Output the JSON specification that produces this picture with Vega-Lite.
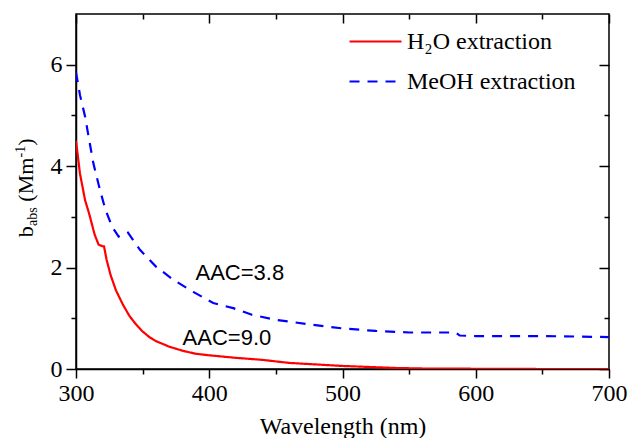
{
  "$schema": "https://vega.github.io/schema/vega-lite/v6.json",
  "width": 533,
  "height": 355,
  "autosize": {"type": "none"},
  "padding": {"left": 76, "top": 14, "right": 21, "bottom": 69},
  "background": "white",
  "config": {
    "font": "'Liberation Serif', 'Times New Roman', Times, serif",
    "view": {"stroke": "black", "strokeWidth": 1.5},
    "axis": {
      "grid": false,
      "domainColor": "black",
      "domainWidth": 1.5,
      "tickColor": "black",
      "tickWidth": 1.5,
      "labelFont": "'Liberation Serif', 'Times New Roman', Times, serif",
      "labelFontSize": 24,
      "labelColor": "black",
      "titleFont": "'Liberation Serif', 'Times New Roman', Times, serif",
      "titleFontSize": 24,
      "titleFontWeight": "normal",
      "titleColor": "black"
    },
    "legend": {
      "orient": "none",
      "legendX": 272,
      "legendY": 0,
      "padding": 0,
      "symbolType": "stroke",
      "symbolSize": 2704,
      "symbolStrokeWidth": 2.2,
      "labelFont": "'Liberation Serif', 'Times New Roman', Times, serif",
      "labelFontSize": 24,
      "labelColor": "black",
      "labelOffset": 4,
      "rowPadding": -7,
      "labelLimit": 400
    }
  },
  "datasets": {
    "spectra": [
      {"wl": 300, "b": 4.5, "series": "H₂O extraction"},
      {"wl": 303, "b": 3.85, "series": "H₂O extraction"},
      {"wl": 306.8, "b": 3.33, "series": "H₂O extraction"},
      {"wl": 310, "b": 3.05, "series": "H₂O extraction"},
      {"wl": 314, "b": 2.65, "series": "H₂O extraction"},
      {"wl": 317, "b": 2.45, "series": "H₂O extraction"},
      {"wl": 320, "b": 2.42, "series": "H₂O extraction"},
      {"wl": 321, "b": 2.42, "series": "H₂O extraction"},
      {"wl": 323, "b": 2.15, "series": "H₂O extraction"},
      {"wl": 326, "b": 1.85, "series": "H₂O extraction"},
      {"wl": 330, "b": 1.55, "series": "H₂O extraction"},
      {"wl": 335, "b": 1.28, "series": "H₂O extraction"},
      {"wl": 340, "b": 1.05, "series": "H₂O extraction"},
      {"wl": 345, "b": 0.88, "series": "H₂O extraction"},
      {"wl": 350, "b": 0.74, "series": "H₂O extraction"},
      {"wl": 355, "b": 0.63, "series": "H₂O extraction"},
      {"wl": 360, "b": 0.55, "series": "H₂O extraction"},
      {"wl": 370, "b": 0.44, "series": "H₂O extraction"},
      {"wl": 380, "b": 0.36, "series": "H₂O extraction"},
      {"wl": 390, "b": 0.3, "series": "H₂O extraction"},
      {"wl": 400, "b": 0.27, "series": "H₂O extraction"},
      {"wl": 420, "b": 0.22, "series": "H₂O extraction"},
      {"wl": 440, "b": 0.18, "series": "H₂O extraction"},
      {"wl": 460, "b": 0.12, "series": "H₂O extraction"},
      {"wl": 480, "b": 0.09, "series": "H₂O extraction"},
      {"wl": 500, "b": 0.06, "series": "H₂O extraction"},
      {"wl": 520, "b": 0.04, "series": "H₂O extraction"},
      {"wl": 540, "b": 0.02, "series": "H₂O extraction"},
      {"wl": 560, "b": 0.01, "series": "H₂O extraction"},
      {"wl": 600, "b": 0.005, "series": "H₂O extraction"},
      {"wl": 650, "b": 0.0, "series": "H₂O extraction"},
      {"wl": 700, "b": 0.0, "series": "H₂O extraction"},
      {"wl": 300, "b": 5.85, "series": "MeOH extraction"},
      {"wl": 303, "b": 5.4, "series": "MeOH extraction"},
      {"wl": 306.8, "b": 4.98, "series": "MeOH extraction"},
      {"wl": 310, "b": 4.5, "series": "MeOH extraction"},
      {"wl": 313, "b": 4.06, "series": "MeOH extraction"},
      {"wl": 318, "b": 3.53, "series": "MeOH extraction"},
      {"wl": 322, "b": 3.15, "series": "MeOH extraction"},
      {"wl": 327, "b": 2.81, "series": "MeOH extraction"},
      {"wl": 332, "b": 2.61, "series": "MeOH extraction"},
      {"wl": 336, "b": 2.66, "series": "MeOH extraction"},
      {"wl": 339, "b": 2.69, "series": "MeOH extraction"},
      {"wl": 348, "b": 2.35, "series": "MeOH extraction"},
      {"wl": 360, "b": 2.02, "series": "MeOH extraction"},
      {"wl": 373, "b": 1.76, "series": "MeOH extraction"},
      {"wl": 388, "b": 1.52, "series": "MeOH extraction"},
      {"wl": 403, "b": 1.3, "series": "MeOH extraction"},
      {"wl": 418, "b": 1.2, "series": "MeOH extraction"},
      {"wl": 432, "b": 1.07, "series": "MeOH extraction"},
      {"wl": 450, "b": 0.97, "series": "MeOH extraction"},
      {"wl": 475, "b": 0.88, "series": "MeOH extraction"},
      {"wl": 500, "b": 0.8, "series": "MeOH extraction"},
      {"wl": 525, "b": 0.75, "series": "MeOH extraction"},
      {"wl": 550, "b": 0.72, "series": "MeOH extraction"},
      {"wl": 575, "b": 0.72, "series": "MeOH extraction"},
      {"wl": 585, "b": 0.72, "series": "MeOH extraction"},
      {"wl": 588, "b": 0.66, "series": "MeOH extraction"},
      {"wl": 600, "b": 0.65, "series": "MeOH extraction"},
      {"wl": 650, "b": 0.65, "series": "MeOH extraction"},
      {"wl": 700, "b": 0.63, "series": "MeOH extraction"}
    ]
  },
  "resolve": {"axis": {"x": "independent", "y": "independent"}},
  "layer": [
    {
      "data": {"name": "spectra"},
      "mark": {"type": "line", "strokeWidth": 2.2, "clip": true},
      "encoding": {
        "x": {
          "field": "wl", "type": "quantitative",
          "scale": {"domain": [300, 700], "nice": false, "zero": false},
          "axis": {
            "title": "Wavelength (nm)",
            "values": [300, 350, 400, 450, 500, 550, 600, 650, 700],
            "labelExpr": "datum.value % 100 === 0 ? datum.label : ''",
            "tickSize": {"condition": {"test": "datum.value % 100 === 0", "value": 9}, "value": 5},
            "labelPadding": 3,
            "titlePadding": 9,
            "labelFlush": false
          }
        },
        "y": {
          "field": "b", "type": "quantitative",
          "scale": {"domain": [0, 7], "nice": false, "zero": true},
          "axis": {
            "title": null,
            "values": [0, 1, 2, 3, 4, 5, 6],
            "labelExpr": "datum.value % 2 === 0 ? datum.label : ''",
            "tickSize": {"condition": {"test": "datum.value % 2 === 0", "value": 10}, "value": 5},
            "labelPadding": 4,
            "labelFlush": false
          }
        },
        "color": {
          "field": "series", "type": "nominal",
          "scale": {"domain": ["H₂O extraction", "MeOH extraction"], "range": ["#ff0000", "#0000ff"]},
          "legend": {"title": null}
        },
        "strokeDash": {
          "field": "series", "type": "nominal",
          "scale": {"domain": ["H₂O extraction", "MeOH extraction"], "range": [[1, 0], [10, 8]]},
          "legend": {"title": null}
        }
      }
    },
    {
      "data": {"name": "spectra"},
      "mark": {"type": "point", "opacity": 0},
      "encoding": {
        "x": {
          "field": "wl", "type": "quantitative",
          "scale": {"domain": [300, 700], "nice": false, "zero": false},
          "axis": {
            "orient": "top", "title": null, "labels": false, "domain": false,
            "values": [300, 350, 400, 450, 500, 550, 600, 650, 700],
            "tickSize": {"condition": {"test": "datum.value % 100 === 0", "value": -9}, "value": -5}
          }
        },
        "y": {
          "field": "b", "type": "quantitative",
          "scale": {"domain": [0, 7], "nice": false},
          "axis": {
            "orient": "right", "title": null, "labels": false, "domain": false,
            "values": [0, 1, 2, 3, 4, 5, 6],
            "tickSize": {"condition": {"test": "datum.value % 2 === 0", "value": -10}, "value": -5}
          }
        }
      }
    },
    {
      "data": {"values": [
        {"t": "AAC=3.8", "wl": 389.7, "b": 1.755},
        {"t": "AAC=9.0", "wl": 380, "b": 0.47}
      ]},
      "mark": {"type": "text", "font": "'Liberation Sans', Arial, sans-serif", "fontSize": 22, "align": "left", "baseline": "alphabetic", "color": "black"},
      "encoding": {
        "x": {"field": "wl", "type": "quantitative", "axis": null},
        "y": {"field": "b", "type": "quantitative", "axis": null},
        "text": {"field": "t"}
      }
    },
    {
      "data": {"values": [
        {"t": "b", "wl": 267.4, "b": 2.6},
        {"t": "(Mm", "wl": 267.4, "b": 3.3},
        {"t": ")", "wl": 267.4, "b": 4.4}
      ]},
      "mark": {"type": "text", "font": "'Liberation Serif', 'Times New Roman', Times, serif", "fontSize": 22, "align": "left", "baseline": "alphabetic", "angle": 270, "color": "black"},
      "encoding": {
        "x": {"field": "wl", "type": "quantitative", "axis": null},
        "y": {"field": "b", "type": "quantitative", "axis": null},
        "text": {"field": "t"}
      }
    },
    {
      "data": {"values": [
        {"t": "abs", "wl": 270.4, "b": 2.82},
        {"t": "-1", "wl": 261.4, "b": 4.17}
      ]},
      "mark": {"type": "text", "font": "'Liberation Serif', 'Times New Roman', Times, serif", "fontSize": 14, "align": "left", "baseline": "alphabetic", "angle": 270, "color": "black"},
      "encoding": {
        "x": {"field": "wl", "type": "quantitative", "axis": null},
        "y": {"field": "b", "type": "quantitative", "axis": null},
        "text": {"field": "t"}
      }
    }
  ]
}
